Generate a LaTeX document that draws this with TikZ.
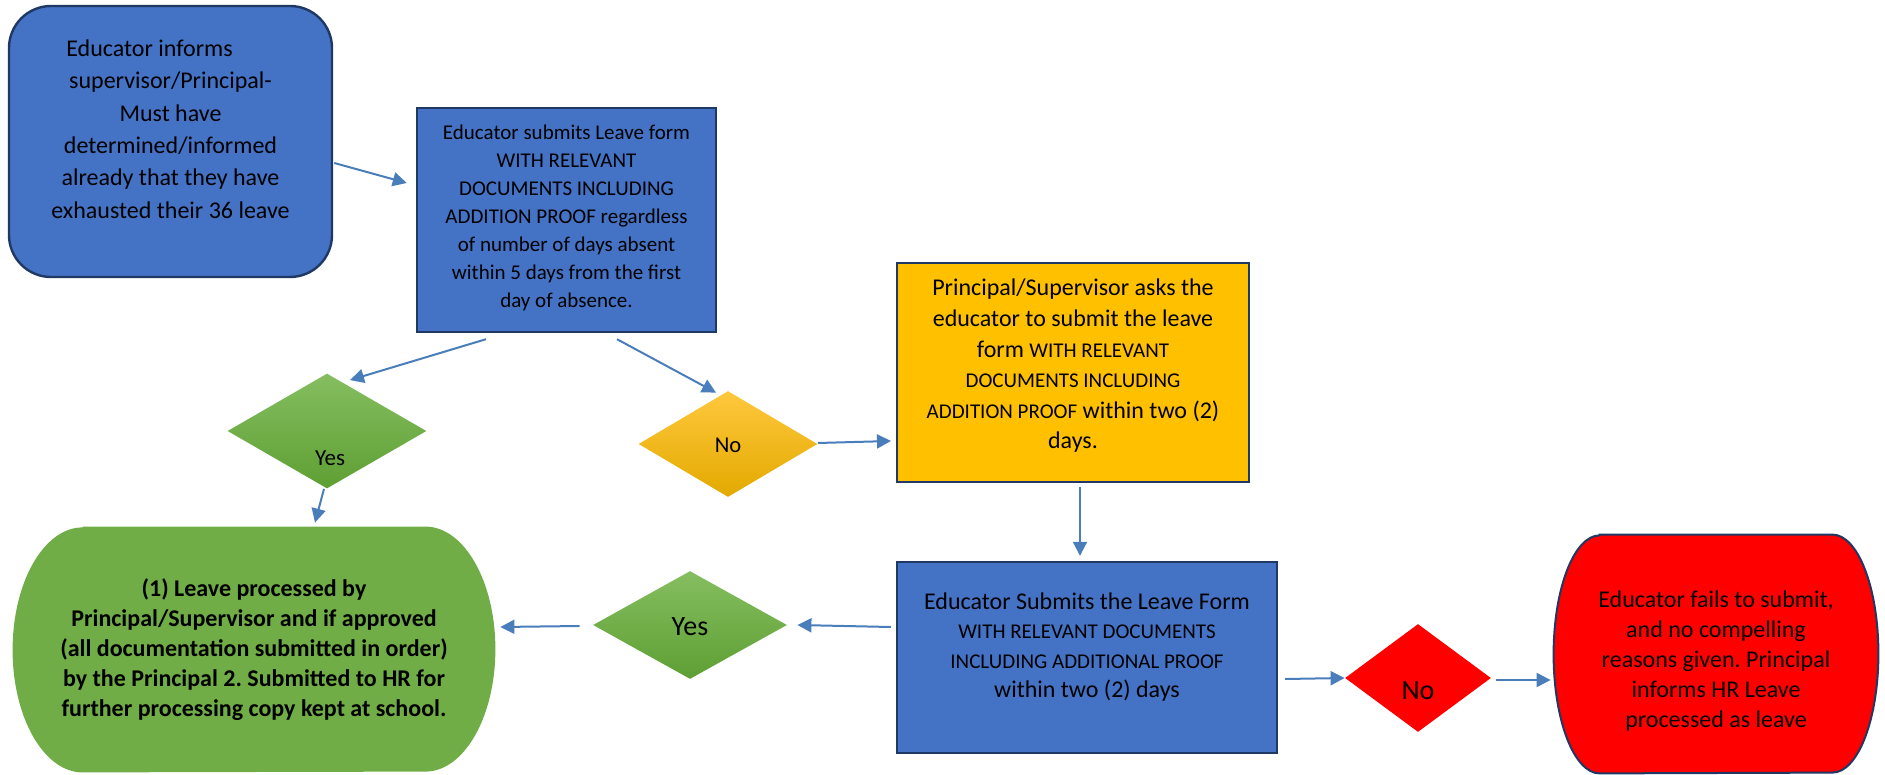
\documentclass[tikz,border=0pt]{standalone}
\usepackage{fontspec}
\setmainfont{Carlito}
\usetikzlibrary{shapes.geometric,arrows.meta,calc}
\frenchspacing
\definecolor{boxblue}{HTML}{4472C4}
\definecolor{navy}{HTML}{203864}
\definecolor{arrowblue}{HTML}{4A7EBB}
\definecolor{gold}{HTML}{FFC000}
\definecolor{leaf}{HTML}{70AD47}
\definecolor{leaftop}{HTML}{85BE60}
\definecolor{leafbot}{HTML}{5E9F33}
\definecolor{goldtop}{HTML}{FFC83D}
\definecolor{goldbot}{HTML}{E3A900}
\definecolor{alarm}{HTML}{FF0000}
\newcommand{\bigtext}{\fontsize{12}{15.3}\selectfont}
\newcommand{\capstext}{\fontsize{10.5}{15.3}\selectfont}
\begin{document}
\begin{tikzpicture}[x=0.5pt,y=-0.5pt,
  boxnode/.style={rectangle, draw=navy, line width=1.2pt, fill=boxblue, inner sep=0pt},
  dia/.style={diamond, inner sep=0pt, draw=none},
  txt/.style={align=center, inner sep=0pt, text=black},
  arr/.style={draw=arrowblue, line width=1pt, -{Triangle[length=7pt,width=7pt]}},
  anchorbox/.style={rectangle, inner sep=0pt, draw=none}]
\useasboundingbox (0,0) rectangle (1885,775);

% ---------- shapes ----------
\node[boxnode, rounded corners=21pt, minimum width=161.5pt, minimum height=135.5pt] (b1) at (170.5,141.5) {};
\node[boxnode, minimum width=149.5pt, minimum height=112pt] (b2) at (566.5,220) {};
\node[boxnode, fill=gold, line width=1pt, minimum width=176pt, minimum height=109.5pt] (b3) at (1073,372.5) {};
\node[boxnode, minimum width=190pt, minimum height=95.5pt] (b4) at (1087,657.5) {};

\node[dia, top color=leaftop, bottom color=leafbot, minimum width=99.5pt, minimum height=57.5pt] (dy1) at (327,431) {};
\node[dia, top color=goldtop, bottom color=goldbot, minimum width=89.5pt, minimum height=53pt] (dn1) at (728,444) {};
\node[dia, top color=leaftop, bottom color=leafbot, minimum width=97pt, minimum height=54pt] (dy2) at (690,625) {};
\node[dia, fill=alarm, minimum width=73pt, minimum height=54pt] (dn2) at (1418,678) {};

% green terminator
\node[anchorbox, minimum width=241pt, minimum height=122.5pt] (term) at (254,649.5) {};
\fill[leaf] ([xshift=35pt]term.north west) -- ([xshift=-35pt]term.north east)
  arc[start angle=90, end angle=-90, x radius=35pt, y radius=61.25pt]
  -- ([xshift=35pt]term.south west)
  arc[start angle=270, end angle=90, x radius=35pt, y radius=61.25pt] -- cycle;

% red end box
\node[anchorbox, minimum width=162pt, minimum height=119pt] (fail) at (1716,654) {};
\filldraw[fill=alarm, draw=navy, line width=1pt] ([xshift=23pt]fail.north west) -- ([xshift=-23pt]fail.north east)
  arc[start angle=90, end angle=-90, x radius=23pt, y radius=59.5pt]
  -- ([xshift=23pt]fail.south west)
  arc[start angle=270, end angle=90, x radius=23pt, y radius=59.5pt] -- cycle;

% ---------- texts ----------
\node[txt, font=\fontsize{12}{16.2}\selectfont] (b1t) at ($(b1.center)+(0,-12.5)$)
  {Educator informs\hspace*{21pt}\\ supervisor/Principal-\\ Must have\\ determined/informed\\ already that they have\\ exhausted their 36 leave};
\node[txt, font=\fontsize{10.5}{14}\selectfont] (b2t) at ($(b2.center)+(0,-2)$)
  {Educator submits Leave form\\ WITH RELEVANT\\ DOCUMENTS INCLUDING\\ ADDITION PROOF regardless\\ of number of days absent\\ within 5 days from the first\\ day of absence.};
\node[txt, font=\bigtext] (b3t) at ($(b3.center)+(0,-6.5)$)
  {Principal/Supervisor asks the\\ educator to submit the leave\\ form {\capstext WITH RELEVANT}\\ {\capstext DOCUMENTS INCLUDING}\\ {\capstext ADDITION PROOF} within two (2)\\ days.};
\node[txt, font=\fontsize{12}{14.7}\selectfont] (b4t) at ($(b4.center)+(0,-10.5)$)
  {Educator Submits the Leave Form\\ {\fontsize{10.5}{14.7}\selectfont WITH RELEVANT DOCUMENTS}\\ {\fontsize{10.5}{14.7}\selectfont INCLUDING ADDITIONAL PROOF}\\ within two (2) days};
\node[txt, font=\fontsize{12}{15}\selectfont\bfseries] (termt) at (term.center)
  {(1) Leave processed by\\ Principal/Supervisor and if approved\\ (all documentation submitted in order)\\ by the Principal 2. Submitted to HR for\\ further processing copy kept at school.};
\node[txt, font=\fontsize{12}{15}\selectfont] (failt) at ($(fail.center)+(0,7)$)
  {Educator fails to submit,\\ and no compelling\\ reasons given. Principal\\ informs HR Leave\\ processed as leave};
\node[txt, font=\fontsize{11.5}{14}\selectfont] (dy1t) at (330,458) {Yes};
\node[txt, font=\fontsize{11.3}{14}\selectfont] (dn1t) at (728,445) {No};
\node[txt, font=\fontsize{14}{16}\selectfont] (dy2t) at (690,627) {Yes};
\node[txt, font=\fontsize{14}{16}\selectfont] (dn2t) at (1418,691) {No};

% ---------- connectors ----------
\draw[arr] ($(b1.east)+(1,21.5)$) -- ($(b2.west)+(-9,-37)$);
\draw[arr] ($(b2.south)+(-80.5,6)$) -- ($(dy1.north)+(23,7)$);
\draw[arr] ($(b2.south)+(50.5,6)$) -- ($(dn1.north)+(-12,2)$);
\draw[arr] ($(dy1.south)+(-3,0)$) -- ($(term.north)+(61,-4)$);
\draw[arr] ($(dn1.east)+(0,-1)$) -- ($(b3.west)+(-5,68.5)$);
\draw[arr] ($(b3.south)+(7,4)$) -- ($(b4.north)+(-7,-5)$);
\draw[arr] ($(b4.west)+(-5,-30.5)$) -- ($(dy2.east)+(10,0)$);
\draw[arr] ($(dy2.west)+(-13,1)$) -- ($(term.east)+(5,-22.5)$);
\draw[arr] ($(b4.east)+(7,21.5)$) -- ($(dn2.west)+(0,0)$);
\draw[arr] ($(dn2.east)+(5,2)$) -- ($(fail.west)+(-3,26)$);
\end{tikzpicture}
\end{document}
